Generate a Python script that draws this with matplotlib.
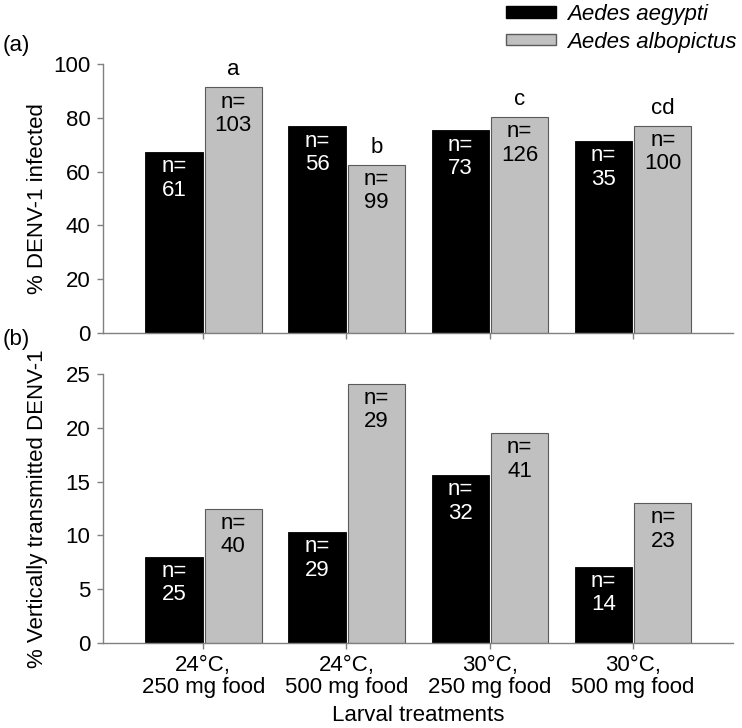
import numpy as np
import matplotlib
matplotlib.use("Agg")
import matplotlib.pyplot as plt
from matplotlib.patches import Patch

plt.rcParams['font.family'] = ['Liberation Sans', 'DejaVu Sans']

# data
treatments = ["24°C,\n250 mg food", "24°C,\n500 mg food", "30°C,\n250 mg food", "30°C,\n500 mg food"]
infected_aeg = [67.2, 76.8, 75.3, 71.4]
infected_alb = [91.3, 62.6, 80.2, 77.0]
n_inf_aeg = [61, 56, 73, 35]
n_inf_alb = [103, 99, 126, 100]
letters_alb = ["a", "b", "c", "cd"]

vt_aeg = [8.0, 10.3, 15.6, 7.1]
vt_alb = [12.5, 24.1, 19.5, 13.0]
n_vt_aeg = [25, 29, 32, 14]
n_vt_alb = [40, 29, 41, 23]

BLACK = "#000000"
GREY = "#c0c0c0"
AXC = "#808080"
FS = 16

W, H = 742, 728
fig = plt.figure(figsize=(W / 100, H / 100), dpi=100)

def axpos(x0, x1, y0, y1):
    return [x0 / W, 1 - y1 / H, (x1 - x0) / W, (y1 - y0) / H]

ax1 = fig.add_axes(axpos(103, 733, 64, 333))
ax2 = fig.add_axes(axpos(103, 733, 374, 643))

x = np.arange(len(treatments))
bw = 0.4

def style(ax, ymax, step):
    ax.set_xlim(-0.7, 3.7)
    ax.set_ylim(0, ymax)
    ax.set_yticks(np.arange(0, ymax + 0.1, step))
    for s in ["top", "right"]:
        ax.spines[s].set_visible(False)
    for s in ["left", "bottom"]:
        ax.spines[s].set_color(AXC)
        ax.spines[s].set_linewidth(1.0)
    ax.tick_params(axis="both", colors=AXC, labelcolor="black", labelsize=FS,
                   length=4, width=1.0, direction="out", pad=5)
    ax.set_xticks(x)

def draw(ax, aeg, alb, n_aeg, n_alb):
    ax.bar(x - bw - 0.005, aeg, bw, align="edge", color=BLACK, edgecolor=BLACK, linewidth=0.6)
    ax.bar(x + 0.01, alb, bw, align="edge", color=GREY, edgecolor="#5a5a5a", linewidth=0.8)
    for i in range(len(x)):
        ax.annotate("n=\n%d" % n_aeg[i], (x[i] - bw / 2 - 0.005, aeg[i]), xytext=(0, -3),
                    textcoords="offset points", ha="center", va="top", color="white",
                    fontsize=FS, linespacing=1.15)
        ax.annotate("n=\n%d" % n_alb[i], (x[i] + bw / 2 + 0.01, alb[i]), xytext=(0, -3),
                    textcoords="offset points", ha="center", va="top", color="black",
                    fontsize=FS, linespacing=1.15)

style(ax1, 100, 20)
draw(ax1, infected_aeg, infected_alb, n_inf_aeg, n_inf_alb)
for i in range(len(x)):
    ax1.annotate(letters_alb[i], (x[i] + bw / 2 + 0.01, infected_alb[i]), xytext=(0, 5),
                 textcoords="offset points", ha="center", va="bottom", fontsize=FS)
ax1.set_xticklabels([])
ax1.set_ylabel("% DENV-1 infected", fontsize=FS)
ax1.yaxis.set_label_coords(-0.088, 0.5)

style(ax2, 25, 5)
draw(ax2, vt_aeg, vt_alb, n_vt_aeg, n_vt_alb)
ax2.set_xticklabels(treatments, fontsize=FS, linespacing=1.05)
ax2.set_ylabel("% Vertically transmitted DENV-1", fontsize=FS)
ax2.yaxis.set_label_coords(-0.088, 0.5)
ax2.set_xlabel("Larval treatments", fontsize=FS, labelpad=5)

fig.text(16 / W, 1 - 46 / H, "(a)", fontsize=FS, ha="center", va="center")
fig.text(16 / W, 1 - 340 / H, "(b)", fontsize=FS, ha="center", va="center")

handles = [Patch(facecolor=BLACK, edgecolor=BLACK),
           Patch(facecolor=GREY, edgecolor="#5a5a5a")]
leg = fig.legend(handles, ["Aedes aegypti", "Aedes albopictus"], loc="upper left",
                 bbox_to_anchor=(506 / W, 1 - 4 / H), frameon=False, borderpad=0,
                 borderaxespad=0, handlelength=2.25, handleheight=0.4,
                 handletextpad=0.5, labelspacing=0.3, prop={"size": FS, "style": "italic"})

fig.savefig("out.png", dpi=100)
